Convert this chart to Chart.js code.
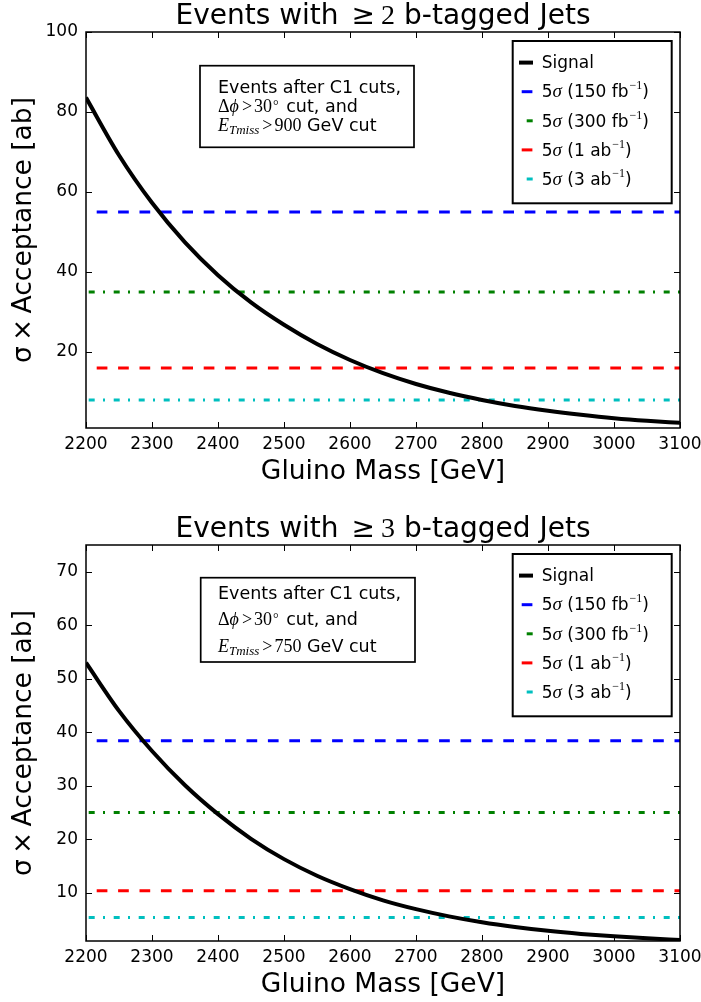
<!DOCTYPE html>
<html>
<head>
<meta charset="utf-8">
<script src="https://cdn.jsdelivr.net/npm/chart.js@4.4.1/dist/chart.umd.min.js"></script>
<style>
  body { margin: 0; background: #fff; width: 701px; height: 1002px; position: relative; overflow: hidden; }
  canvas { position: absolute; left: 0; }
</style>
</head>
<body>
<canvas id="chart2b" width="701" height="489" style="top:0"></canvas>
<canvas id="chart3b" width="701" height="489" style="top:513px"></canvas>
<script>
// gluino mass grid and signal cross section x acceptance [ab]
const massGeV = [2200, 2250, 2300, 2350, 2400, 2450, 2500, 2550, 2600, 2650, 2700, 2750, 2800, 2850, 2900, 2950, 3000, 3050, 3100];
const signal2b = [83.6, 69.2, 57.3, 47.4, 39.2, 32.4, 26.8, 22.0, 18.0, 14.7, 12.0, 9.8, 8.0, 6.5, 5.3, 4.3, 3.45, 2.8, 2.3];
const signal3b = [53.0, 44.0, 36.5, 30.1, 24.7, 20.1, 16.3, 13.2, 10.7, 8.6, 6.95, 5.6, 4.5, 3.62, 2.9, 2.33, 1.87, 1.5, 1.2];

// 5 sigma discovery levels for each luminosity
const reachLabels = ['5σ (150 fb⁻¹)', '5σ (300 fb⁻¹)', '5σ (1 ab⁻¹)', '5σ (3 ab⁻¹)'];
const reach2b = [55, 35, 16, 8];
const reach3b = [38.4, 25, 10.4, 5.4];

// ticks
const xTicks = [2200, 2300, 2400, 2500, 2600, 2700, 2800, 2900, 3000, 3100];
const yTicks2b = [20, 40, 60, 80, 100];
const yTicks3b = [10, 20, 30, 40, 50, 60, 70];

// line styles
const DASHED = [10.7, 10.7];
const DASHDOT = [6, 8.3, 2, 8.7];
const reachColors = ['#0000ff', '#008000', '#ff0000', '#00bfbf'];
const reachDash = [DASHED, DASHDOT, DASHED, DASHDOT];
const reachOffset = [10.7, 22.3, 10.7, 22.3];
const legendOffset = [-2.7, -7.7, -2.7, -7.7];

const SANS = '"DejaVu Sans", sans-serif';
const SERIF = '"Liberation Serif", "DejaVu Serif", serif';

function drawParts(ctx, parts, x, y, align) {
    let w = 0;
    parts.forEach(p => { ctx.font = p.f; w += (p.dx || 0) + ctx.measureText(p.t).width; });
    let cx = align === 'center' ? x - w / 2 : x;
    parts.forEach(p => {
        ctx.font = p.f;
        cx += p.dx || 0;
        ctx.fillText(p.t, cx, y + (p.dy || 0));
        cx += ctx.measureText(p.t).width;
    });
}

// split "5σ (150 fb⁻¹)" into sans / italic sigma / superscript pieces
function labelParts(label) {
    const parts = [];
    label.split(/(σ|⁻¹)/).forEach(s => {
        if (!s) return;
        if (s === 'σ') parts.push({ t: 'σ', f: 'italic 19px ' + SERIF });
        else if (s === '⁻¹') parts.push({ t: '−1', f: '12px ' + SERIF, dy: -8, dx: 1 });
        else parts.push({ t: s, f: '17px ' + SANS });
    });
    return parts;
}

function makeChart(id, signal, reach, yMin, yMax, yTicks, nJets, cut, note) {
    const decor = {
        id: 'decor',
        afterDatasetsDraw(chart) {
            const { ctx, chartArea: a, scales: { x, y } } = chart;
            ctx.save();
            ctx.strokeStyle = '#000';
            ctx.lineWidth = 1;
            ctx.beginPath();
            xTicks.forEach(v => {
                const px = Math.round(x.getPixelForValue(v)) + 0.5;
                ctx.moveTo(px, a.bottom); ctx.lineTo(px, a.bottom - 6);
                ctx.moveTo(px, a.top); ctx.lineTo(px, a.top + 6);
            });
            yTicks.forEach(v => {
                const py = Math.round(y.getPixelForValue(v)) + 0.5;
                ctx.moveTo(a.left, py); ctx.lineTo(a.left + 6, py);
                ctx.moveTo(a.right, py); ctx.lineTo(a.right - 6, py);
            });
            ctx.stroke();
            ctx.lineWidth = 1.5;
            ctx.strokeRect(a.left, a.top, a.right - a.left, a.bottom - a.top);
            ctx.restore();
        },
        afterDraw(chart) {
            const { ctx, chartArea: a } = chart;
            ctx.save();
            ctx.fillStyle = '#000';
            ctx.textAlign = 'left';
            ctx.textBaseline = 'alphabetic';

            // title
            drawParts(ctx, [
                { t: 'Events with', f: '28px ' + SANS },
                { t: '≥', f: '28px ' + SANS, dx: 13 },
                { t: nJets, f: '28px ' + SERIF, dx: 6 },
                { t: 'b-tagged Jets', f: '28px ' + SANS, dx: 9 }
            ], (a.left + a.right) / 2, 23.5, 'center');

            // cut description box
            const [bx0, by0, bx1, by1] = note.box;
            ctx.fillStyle = '#fff';
            ctx.fillRect(bx0, by0, bx1 - bx0, by1 - by0);
            ctx.strokeStyle = '#000';
            ctx.lineWidth = 1.7;
            ctx.strokeRect(bx0, by0, bx1 - bx0, by1 - by0);
            ctx.fillStyle = '#000';
            const tx = 218;
            drawParts(ctx, [{ t: 'Events after C1 cuts,', f: '17.5px ' + SANS }], tx, note.base[0]);
            drawParts(ctx, [
                { t: 'Δ', f: '18px ' + SERIF },
                { t: 'ϕ', f: 'italic 18px ' + SERIF },
                { t: '>', f: '18px ' + SERIF, dx: 3 },
                { t: '30', f: '18px ' + SERIF, dx: 2 },
                { t: '°', f: '14px ' + SERIF, dx: 1, dy: -2 },
                { t: ' cut, and', f: '17.5px ' + SANS, dx: 2 }
            ], tx, note.base[1]);
            drawParts(ctx, [
                { t: 'E', f: 'italic 18px ' + SERIF },
                { t: 'Tmiss', f: 'italic 13px ' + SERIF, dy: 3 },
                { t: '>', f: '18px ' + SERIF, dx: 3 },
                { t: cut, f: '18px ' + SERIF, dx: 2 },
                { t: ' GeV cut', f: '17.5px ' + SANS, dx: 0 }
            ], tx, note.base[2]);

            // legend
            const lx0 = 512.7, ly0 = a.top + 9, lx1 = 671.7, ly1 = a.top + 171.3;
            ctx.fillStyle = '#fff';
            ctx.fillRect(lx0, ly0, lx1 - lx0, ly1 - ly0);
            ctx.lineWidth = 2;
            ctx.strokeStyle = '#000';
            ctx.strokeRect(lx0, ly0, lx1 - lx0, ly1 - ly0);
            chart.data.datasets.forEach((ds, i) => {
                const base = a.top + 36.3 + i * 29.1;
                ctx.save();
                ctx.strokeStyle = ds.borderColor;
                ctx.lineWidth = ds.borderWidth;
                ctx.setLineDash(ds.borderDash || []);
                ctx.lineDashOffset = ds.legendDashOffset || 0;
                ctx.beginPath();
                ctx.moveTo(519, base - 5.7);
                ctx.lineTo(533, base - 5.7);
                ctx.stroke();
                ctx.restore();
                ctx.fillStyle = '#000';
                drawParts(ctx, labelParts(ds.label), 541.7, base);
            });
            ctx.restore();
        }
    };

    const datasets = [{
        label: 'Signal',
        data: massGeV.map((m, i) => ({ x: m, y: signal[i] })),
        borderColor: '#000',
        borderWidth: 4,
        cubicInterpolationMode: 'monotone',
        pointRadius: 0
    }];
    reach.forEach((v, i) => {
        datasets.push({
            label: reachLabels[i],
            data: [{ x: xTicks[0], y: v }, { x: xTicks[xTicks.length - 1], y: v }],
            borderColor: reachColors[i],
            borderWidth: 3,
            borderDash: reachDash[i],
            borderDashOffset: reachOffset[i],
            legendDashOffset: legendOffset[i],
            pointRadius: 0
        });
    });

    new Chart(document.getElementById(id), {
        type: 'line',
        data: { datasets },
        plugins: [decor],
        options: {
            responsive: false,
            animation: false,
            layout: { padding: { top: 32, right: 21, left: 0, bottom: 0 } },
            plugins: { legend: { display: false }, title: { display: false }, tooltip: { enabled: false } },
            scales: {
                x: {
                    type: 'linear',
                    min: xTicks[0],
                    max: xTicks[xTicks.length - 1],
                    afterBuildTicks: s => { s.ticks = xTicks.map(v => ({ value: v })); },
                    afterFit: s => { s.height = 61; s.paddingLeft = 0; s.paddingRight = 0; },
                    grid: { display: false, drawTicks: false },
                    border: { display: false },
                    ticks: {
                        font: { family: SANS, size: 17 }, color: '#000', padding: 6,
                        maxRotation: 0, autoSkip: false,
                        callback: v => String(v)
                    },
                    title: {
                        display: true,
                        text: 'Gluino Mass [GeV]',
                        color: '#000',
                        font: { family: SANS, size: 26.5, lineHeight: 1 },
                        padding: { top: 0, bottom: 3.2 }
                    }
                },
                y: {
                    type: 'linear',
                    min: yMin,
                    max: yMax,
                    afterBuildTicks: s => { s.ticks = yTicks.map(v => ({ value: v })); },
                    afterFit: s => { s.width = 86; },
                    grid: { display: false, drawTicks: false },
                    border: { display: false },
                    ticks: { font: { family: SANS, size: 17 }, color: '#000', padding: 8, callback: v => String(v) },
                    title: {
                        display: true,
                        text: 'σ\u2009×\u2009Acceptance [ab]',
                        color: '#000',
                        font: { family: SANS, size: 26.5, lineHeight: 1.2 },
                        padding: { top: 8.5, bottom: 0 }
                    }
                }
            }
        }
    });
}

makeChart('chart2b', signal2b, reach2b, 1, 100, yTicks2b, '2', '900',
    { box: [200, 65.7, 414, 147.3], base: [93.3, 111.7, 131] });
makeChart('chart3b', signal3b, reach3b, 1, 75, yTicks3b, '3', '750',
    { box: [200.7, 64.7, 415, 149], base: [85.7, 112.3, 139] });
</script>
</body>
</html>
